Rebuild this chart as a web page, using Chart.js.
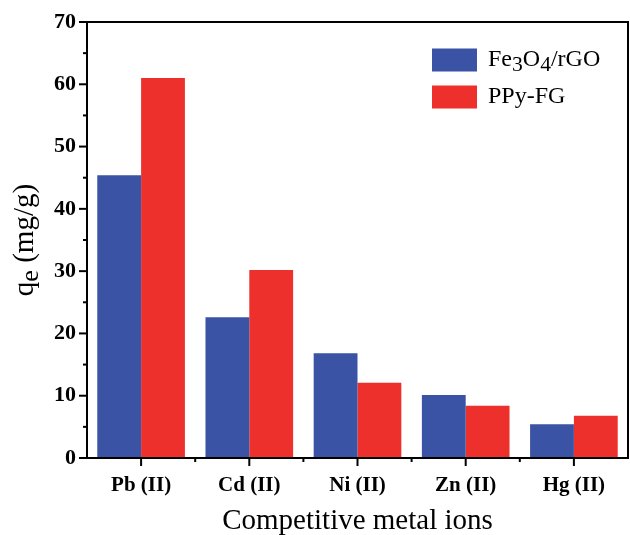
<!DOCTYPE html>
<html>
<head>
<meta charset="utf-8">
<script src="https://cdn.jsdelivr.net/npm/chart.js@4.4.1/dist/chart.umd.min.js"></script>
<style>
  html, body { margin: 0; padding: 0; background: #fff; }
  #wrap { width: 630px; height: 535px; }
</style>
</head>
<body>
<div id="wrap"><canvas id="myChart" width="630" height="535"></canvas></div>
<script>
const ions = ["Pb (II)", "Cd (II)", "Ni (II)", "Zn (II)", "Hg (II)"];
const fe3o4rgo = [45.4, 22.6, 16.8, 10.1, 5.4];
const ppyfg = [61.0, 30.2, 12.1, 8.4, 6.8];
const yTicks = [0, 10, 20, 30, 40, 50, 60, 70];

const blue = "#3a53a4";
const red = "#ee302c";
const serif = "'Liberation Serif', 'Times New Roman', serif";

// draws text pieces, some lowered like subscripts
function drawRich(ctx, parts, x, y, size) {
  let cx = x;
  parts.forEach(function (p) {
    const s = p.sub ? size * 0.9 : size;
    ctx.font = s + "px " + serif;
    ctx.fillText(p.t, cx, y + (p.sub ? size * 0.22 : 0));
    cx += ctx.measureText(p.t).width;
  });
  return cx - x;
}
function richWidth(ctx, parts, size) {
  let w = 0;
  parts.forEach(function (p) {
    ctx.font = (p.sub ? size * 0.9 : size) + "px " + serif;
    w += ctx.measureText(p.t).width;
  });
  return w;
}

const decor = {
  id: "decor",
  afterDraw(chart) {
    const ctx = chart.ctx;
    const a = chart.chartArea;
    const ys = chart.scales.y;
    const xs = chart.scales.x;
    ctx.save();
    ctx.strokeStyle = "#000";
    ctx.lineWidth = 2;
    ctx.strokeRect(a.left, a.top, a.right - a.left, a.bottom - a.top);

    // y ticks, major and minor, outward
    for (let v = 0; v <= 70; v += 5) {
      const py = ys.getPixelForValue(v);
      const len = v % 10 === 0 ? 8 : 4;
      ctx.beginPath();
      ctx.moveTo(a.left - len, py);
      ctx.lineTo(a.left, py);
      ctx.stroke();
    }
    // x ticks: centers major, edges minor
    const step = (a.right - a.left) / ions.length;
    for (let i = 0; i <= ions.length; i++) {
      const px = a.left + i * step;
      if (i > 0 && i < ions.length) {
        ctx.beginPath();
        ctx.moveTo(px, a.bottom);
        ctx.lineTo(px, a.bottom + 4);
        ctx.stroke();
      }
      if (i < ions.length) {
        const cx = xs.getPixelForValue(i);
        ctx.beginPath();
        ctx.moveTo(cx, a.bottom);
        ctx.lineTo(cx, a.bottom + 8);
        ctx.stroke();
      }
    }

    // x title
    ctx.fillStyle = "#000";
    ctx.textAlign = "center";
    ctx.textBaseline = "middle";
    ctx.font = "29px " + serif;
    ctx.fillText("Competitive metal ions", (a.left + a.right) / 2, 521);

    // y title with subscript
    const yParts = [{ t: "q" }, { t: "e", sub: true }, { t: " (mg/g)" }];
    ctx.save();
    ctx.translate(25, (a.top + a.bottom) / 2);
    ctx.rotate(-Math.PI / 2);
    ctx.textAlign = "left";
    ctx.textBaseline = "middle";
    const w = richWidth(ctx, yParts, 29);
    drawRich(ctx, yParts, -w / 2, 0, 29);
    ctx.restore();

    // legend
    const legend = [
      { c: blue, parts: [{ t: "Fe" }, { t: "3", sub: true }, { t: "O" }, { t: "4", sub: true }, { t: "/rGO" }], y: 60 },
      { c: red, parts: [{ t: "PPy-FG" }], y: 97 }
    ];
    ctx.textAlign = "left";
    ctx.textBaseline = "middle";
    legend.forEach(function (l) {
      ctx.fillStyle = l.c;
      ctx.fillRect(432, l.y - 11.5, 45, 23);
      ctx.fillStyle = "#000";
      drawRich(ctx, l.parts, 488, l.y, 24);
    });
    ctx.restore();
  }
};

new Chart(document.getElementById("myChart"), {
  type: "bar",
  data: {
    labels: ions,
    datasets: [
      { label: "Fe3O4/rGO", data: fe3o4rgo, backgroundColor: blue, borderWidth: 0 },
      { label: "PPy-FG", data: ppyfg, backgroundColor: red, borderWidth: 0 }
    ]
  },
  options: {
    responsive: false,
    animation: false,
    layout: { padding: { left: 0, right: 2, top: 22, bottom: 0 } },
    plugins: { legend: { display: false }, tooltip: { enabled: false } },
    datasets: { bar: { categoryPercentage: 0.81, barPercentage: 1 } },
    scales: {
      x: {
        grid: { display: false },
        border: { display: false },
        ticks: {
          color: "#000",
          padding: 7,
          font: { family: serif, size: 21, weight: "bold" }
        },
        afterFit(scale) { scale.height = 77; }
      },
      y: {
        min: 0,
        max: 70,
        afterBuildTicks(scale) { scale.ticks = yTicks.map(v => ({ value: v })); },
        grid: { display: false },
        border: { display: false },
        ticks: {
          color: "#000",
          padding: 3,
          font: { family: serif, size: 22, weight: "bold" }
        },
        afterFit(scale) { scale.width = 87; }
      }
    }
  },
  plugins: [decor]
});
</script>
</body>
</html>
